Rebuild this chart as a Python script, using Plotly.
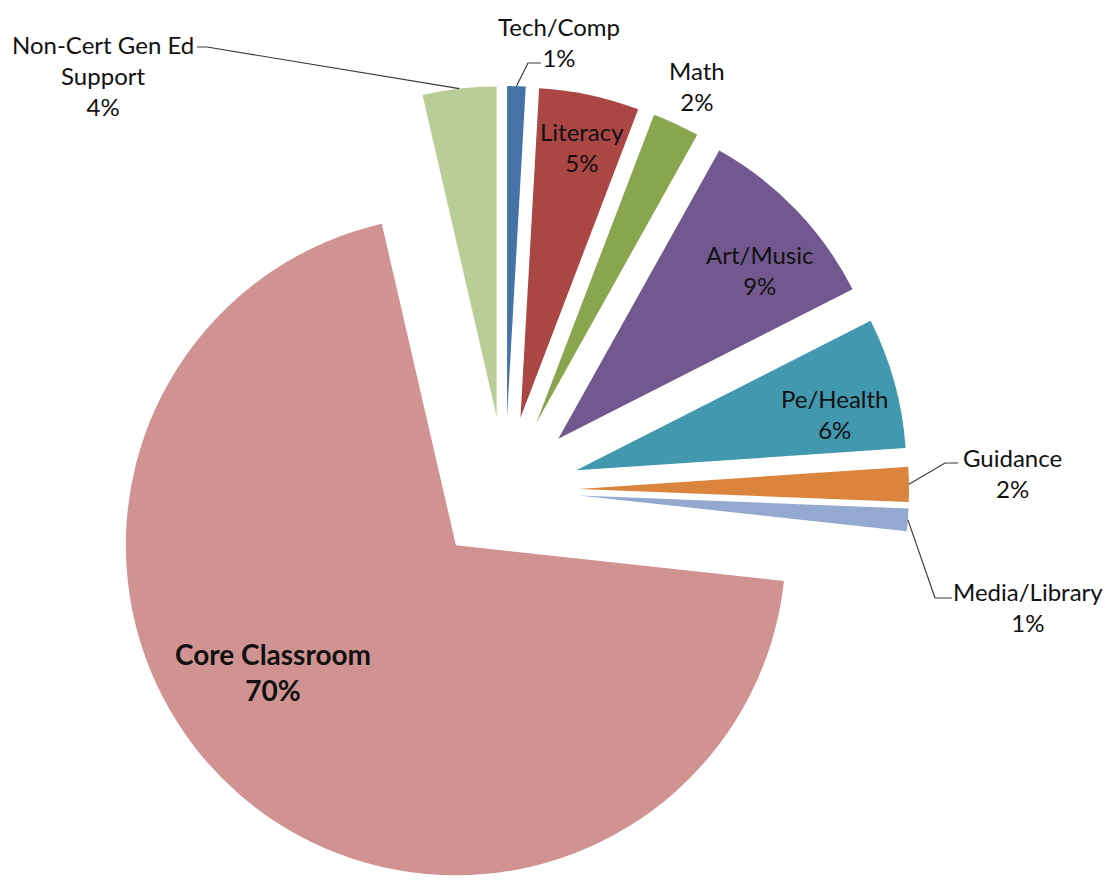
import numpy as np
import plotly.graph_objects as go

# ---- data ----
labels = ["Tech/Comp", "Literacy", "Math", "Art/Music", "Pe/Health",
          "Guidance", "Media/Library", "Core Classroom", "Non-Cert Gen Ed Support"]
display = ["Tech/Comp", "Literacy", "Math", "Art/Music", "Pe/Health",
           "Guidance", "Media/Library", "Core Classroom", "Non-Cert Gen Ed<br>Support"]
values = [0.9, 4.9, 2.3, 9.4, 6.4, 1.7, 1.1, 69.6, 3.6]
colors = ["#4572A7", "#AA4643", "#89A54E", "#71588F", "#4198AF",
          "#DB843D", "#93A9CF", "#D19392", "#B9CD96"]

# ---- layout geometry ----
W, H = 1113, 886
OFF = 8          # default page margin of the html body
FONT = "Lato"
TXT = "#111111"


def to_paper(sx, sy):
    """screen pixel -> paper coordinate"""
    return (sx - OFF) / W, 1 - (sy - OFF) / H


pie_cx, pie_cy = to_paper(505, 490)
dom_x = [pie_cx - 0.4, pie_cx + 0.4]
dom_y = [0.0, 2 * pie_cy]
PULL = 0.224

total = float(sum(values))
pct = [f"{v / total:.0%}" for v in values]

fig = go.Figure(go.Pie(
    labels=labels,
    values=values,
    textinfo="none",
    automargin=False,
    sort=False,
    direction="clockwise",
    rotation=0,
    pull=[PULL] * len(values),
    marker=dict(colors=colors, line=dict(width=0)),
    domain=dict(x=dom_x, y=dom_y),
    showlegend=False,
    hoverinfo="label+percent",
))

# pie geometry as plotly computes it (used only to attach leader lines)
cx = W * (dom_x[0] + dom_x[1]) / 2
cy = H * (1 - (dom_y[0] + dom_y[1]) / 2)
rad = min(W * (dom_x[1] - dom_x[0]), H * (dom_y[1] - dom_y[0])) / 2 / (1 + PULL)
cum = np.concatenate([[0.0], np.cumsum(values)]) / total


def slice_outer_mid(i):
    am = np.pi * (cum[i] + cum[i + 1])
    x = cx + (1 + PULL) * rad * np.sin(am)
    y = cy - (1 + PULL) * rad * np.cos(am)
    return x / W, 1 - y / H


# label placement (screen pixel centres); the text comes from the data
label_pos = {
    "Tech/Comp": (559, 42),
    "Literacy": (582, 147),
    "Math": (697, 86),
    "Art/Music": (759, 270),
    "Pe/Health": (835, 414),
    "Guidance": (1012, 473),
    "Media/Library": (1028, 607),
    "Core Classroom": (273, 672),
    "Non-Cert Gen Ed Support": (103, 76),
}
# leader line start and elbow (screen pixels)
leaders = {
    "Non-Cert Gen Ed Support": [(197, 47), (207, 47)],
    "Tech/Comp": [(541, 63), (528, 63)],
    "Guidance": [(958, 463), (945, 463)],
    "Media/Library": [(952, 598), (935, 598)],
}

annotations = []
shapes = []
for i, lab in enumerate(labels):
    x, y = to_paper(*label_pos[lab])
    if lab == "Core Classroom":
        txt = f"<b>{display[i]}</b><br><b>{pct[i]}</b>"
        size = 28
    else:
        txt = f"{display[i]}<br>{pct[i]}"
        size = 24
    annotations.append(dict(
        x=x, y=y, xref="paper", yref="paper", text=txt, showarrow=False,
        xanchor="center", yanchor="middle", align="center", borderpad=0,
        font=dict(family=FONT, size=size, color=TXT),
    ))
    if lab in leaders:
        pts = [to_paper(*p) for p in leaders[lab]]
        tx, ty = slice_outer_mid(i)
        path = f"M {pts[0][0]},{pts[0][1]} L {pts[1][0]},{pts[1][1]} L {tx},{ty}"
        shapes.append(dict(type="path", xref="paper", yref="paper", path=path,
                           line=dict(color="#3a3a3a", width=1.2)))

fig.update_layout(
    template="none",
    width=W,
    height=H,
    margin=dict(l=0, r=0, t=0, b=0),
    paper_bgcolor="white",
    plot_bgcolor="white",
    font=dict(family=FONT, color=TXT),
    annotations=annotations,
    shapes=shapes,
)

fig.write_html("out.html")
